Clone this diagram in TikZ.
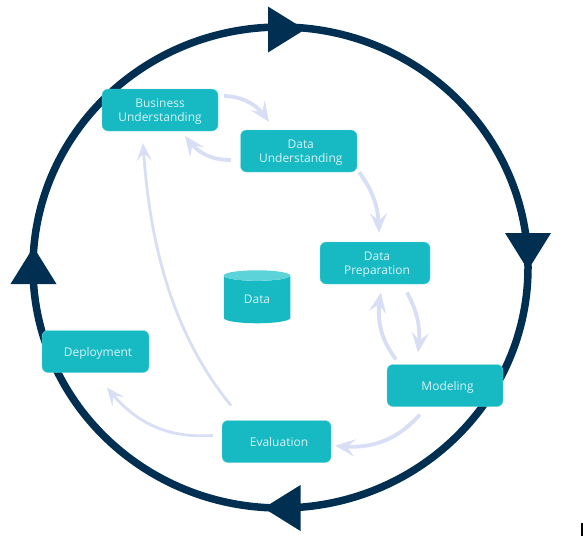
\documentclass[tikz,border=0pt]{standalone}
\usepackage{fontspec}
\setmainfont{Open Sans}
\usepackage{tikz}
\usetikzlibrary{positioning,arrows.meta,bending,shapes.geometric}
\definecolor{RingBlue}{RGB}{1,47,82}
\definecolor{BoxTeal}{RGB}{23,185,195}
\definecolor{BoxEdge}{RGB}{110,213,219}
\definecolor{BoxText}{RGB}{214,244,246}
\definecolor{FlowBlue}{RGB}{216,222,243}
\definecolor{TopTeal}{RGB}{92,211,217}

\begin{document}
\begin{tikzpicture}[
    x=1pt, y=-1pt,
    phase/.style={rectangle, draw=BoxEdge, line width=0.4pt, fill=BoxTeal, rounded corners=6pt,
                  minimum height=42pt, inner sep=0pt, outer sep=0pt, text depth=0pt, align=center, text=BoxText,
                  font=\fontsize{12}{14.5}\selectfont},
    store/.style={cylinder, shape border rotate=90, aspect=0.4, draw=none, inner sep=0pt,
                  cylinder uses custom fill, cylinder end fill=TopTeal, cylinder body fill=BoxTeal,
                  minimum width=66.5pt, minimum height=53pt, text=BoxText,
                  font=\fontsize{12}{14.5}\selectfont},
    ring/.style={draw=RingBlue, line width=7.5pt},
    flow/.style={-{Stealth[length=20pt,width=17pt,inset=8pt,flex=0.5]}, draw=FlowBlue, line width=3.8pt},
    thinflow/.style={-{Stealth[length=18pt,width=15pt,inset=8pt,flex=0.5]}, draw=FlowBlue, line width=2.8pt}
]
    \useasboundingbox (0,0) rectangle (583,536);

    \draw[ring] (280.5,267.5) ellipse (247.5 and 240.5);
    \foreach \px/\py/\turn in {268/29.5/0, 528/233/-90, 33.5/284/90, 300.5/508/180}
        \fill[RingBlue, shift={(\px,\py)}, rotate=\turn] (0,-23) -- (37,0) -- (0,23) -- cycle;

    \node[phase, minimum width=116pt] (bu) at (160,110) {Business\\Understanding};
    \node[phase, minimum width=116.5pt, below right=-1pt and 22.5pt of bu] (du) {\hspace*{4pt}Data\\\hspace*{4pt}Understanding};
    \node[phase, minimum width=110pt, below right=70pt and -37pt of du] (dp) {\hspace*{4pt}Data\\\hspace*{4pt}Preparation};
    \node[phase, minimum width=116pt, below right=80.5pt and -43pt of dp] (mo) {\hspace*{5pt}Modeling};
    \node[phase, minimum width=109pt, below left=14pt and 56pt of mo] (ev) {\hspace*{5pt}Evaluation};
    \node[phase, minimum width=107pt, above left=48pt and 73pt of ev] (de) {\hspace*{5pt}Deployment};
    \node[store] (da) at (257,299.5) {Data};

    \draw[flow] ([shift={(6,7)}]bu.north east) to[bend left=28] ([shift={(28.5,-8)}]du.north west);
    \draw[flow] ([shift={(-9.5,30)}]du.north west) to[bend left=28] ([shift={(-33,5)}]bu.south east);
    \draw[flow] ([shift={(2,0)}]du.south east) to[bend left=18] ([shift={(59,-9)}]dp.north west);
    \draw[flow] ([shift={(-23,8.5)}]dp.south east) to[bend left=18] ([shift={(31,-12)}]mo.north west);
    \draw[flow] ([shift={(9,-5)}]mo.north west) to[bend left=24] ([shift={(-49,8.5)}]dp.south east);
    \draw[flow] ([shift={(33,8)}]mo.south west) to[bend left=28] ([shift={(4,-17)}]ev.south east);
    \draw[thinflow] ([shift={(-9,15)}]ev.north west) to[bend left=28] ([shift={(-42,15)}]de.south east);
    \draw[thinflow] ([shift={(9,-15)}]ev.north west) .. controls (165,325) and (148,225) .. ([shift={(41,12)}]bu.south west);

    \fill[black] (580.5,523) rectangle (583,536);
\end{tikzpicture}
\end{document}
